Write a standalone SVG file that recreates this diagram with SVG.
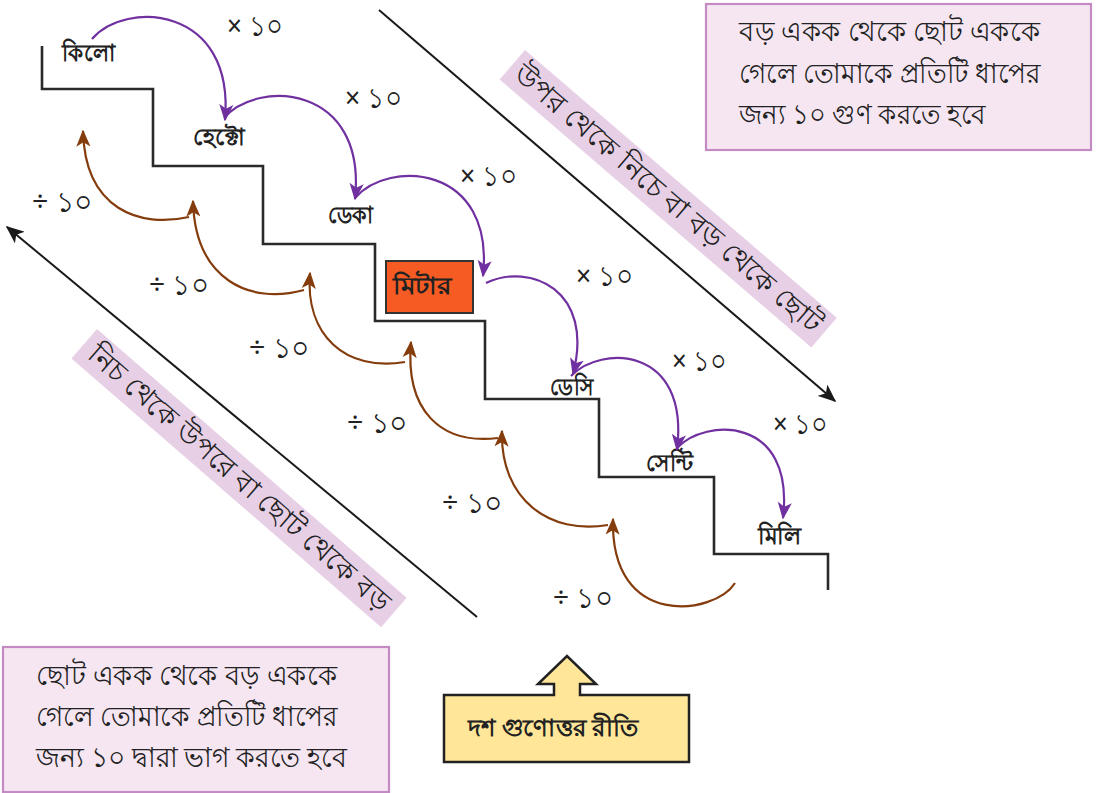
<svg xmlns="http://www.w3.org/2000/svg" width="1096" height="793" viewBox="0 0 1096 793">
<defs>
<style>
.bn{font-family:"Noto Sans","Liberation Sans",sans-serif;fill:#222}
.lbl{font-size:24px;font-weight:bold}
.op{font-size:29px}
.box{font-size:28px}
.band{font-size:28px}
.pu{fill:none;stroke:#7030A0;stroke-width:2.2}
.br{fill:none;stroke:#843C0C;stroke-width:2.2}
.stair{fill:none;stroke:#2a2a2a;stroke-width:2.6}
.diag{fill:none;stroke:#1a1a1a;stroke-width:2}
</style>
<marker id="mp" viewBox="0 0 12 10" refX="11" refY="5" markerWidth="17" markerHeight="15" markerUnits="userSpaceOnUse" orient="auto"><path d="M0,0 L12,5 L0,10 L3,5 z" fill="#7030A0"/></marker>
<marker id="mb" viewBox="0 0 12 10" refX="11" refY="5" markerWidth="17" markerHeight="15" markerUnits="userSpaceOnUse" orient="auto"><path d="M0,0 L12,5 L0,10 L3,5 z" fill="#843C0C"/></marker>
<marker id="mk" viewBox="0 0 12 10" refX="11" refY="5" markerWidth="18" markerHeight="15" markerUnits="userSpaceOnUse" orient="auto"><path d="M0,0 L12,5 L0,10 L3,5 z" fill="#1a1a1a"/></marker>
</defs>
<rect width="1096" height="793" fill="#fff"/>

<g id="bands">
<g id="band-right" transform="translate(525,50) rotate(40.66)">
<rect x="0" y="0" width="411" height="39" fill="#E7D0E6"/>
<text class="bn band" x="8" y="29" textLength="395" lengthAdjust="spacingAndGlyphs">উপর থেকে নিচে বা বড় থেকে ছোট</text>
</g>
<g id="band-left" transform="translate(97,329) rotate(40.95)">
<rect x="0" y="0" width="410" height="39" fill="#E7D0E6"/>
<text class="bn band" x="10" y="29" textLength="390" lengthAdjust="spacingAndGlyphs">নিচ থেকে উপরে বা ছোট থেকে বড়</text>
</g>
</g>

<g id="staircase">
<path class="stair" d="M42,46 V89 H153 V166 H263 V244 H375 V321 H485 V399 H599 V477 H714 V554 H828 V590"/>
</g>

<g id="node-kilo"><text class="bn lbl" x="62" y="61" textLength="53" lengthAdjust="spacingAndGlyphs">কিলো</text></g>
<g id="node-hecto"><text class="bn lbl" x="193" y="145" textLength="52" lengthAdjust="spacingAndGlyphs">হেক্টো</text></g>
<g id="node-deca"><text class="bn lbl" x="328" y="223" textLength="45" lengthAdjust="spacingAndGlyphs">ডেকা</text></g>
<g id="node-meter"><rect x="386" y="261" width="87" height="52" fill="#F55B22" stroke="#333" stroke-width="2"/><text class="bn lbl" x="393" y="294" textLength="58" lengthAdjust="spacingAndGlyphs">মিটার</text></g>
<g id="node-deci"><text class="bn lbl" x="550" y="395" textLength="43" lengthAdjust="spacingAndGlyphs">ডেসি</text></g>
<g id="node-centi"><text class="bn lbl" x="646" y="471" textLength="47" lengthAdjust="spacingAndGlyphs">সেন্টি</text></g>
<g id="node-milli"><text class="bn lbl" x="758" y="544" textLength="43" lengthAdjust="spacingAndGlyphs">মিলি</text></g>

<g id="connectors">
<path class="pu" marker-end="url(#mp)" d="M92,39 C125,0 235,5 225,120"/>
<path class="pu" marker-end="url(#mp)" d="M224,118 C257,79 367,84 355,199"/>
<path class="pu" marker-end="url(#mp)" d="M355,198 C388,159 495,164 483,276"/>
<path class="pu" marker-end="url(#mp)" d="M486,283 C530,262 595,290 573,374"/>
<path class="pu" marker-end="url(#mp)" d="M571,376 C600,345 690,345 677,450"/>
<path class="pu" marker-end="url(#mp)" d="M677,448 C705,418 795,415 783,518"/>

<path class="br" marker-end="url(#mb)" d="M189,217 C140,228 85,210 83,131"/>
<path class="br" marker-end="url(#mb)" d="M304,290 C250,305 195,280 193,201"/>
<path class="br" marker-end="url(#mb)" d="M405,362 C345,372 305,335 310,273"/>
<path class="br" marker-end="url(#mb)" d="M498,438 C440,445 405,410 411,342"/>
<path class="br" marker-end="url(#mb)" d="M608,525 C550,535 500,500 502,431"/>
<path class="br" marker-end="url(#mb)" d="M735,583 C715,615 610,630 613,519"/>

<line class="diag" marker-end="url(#mk)" x1="379" y1="10" x2="835" y2="401"/>
<line class="diag" marker-end="url(#mk)" x1="477" y1="617" x2="7" y2="227"/>
</g>

<g id="ops">
<text class="bn op" x="227" y="36" textLength="56" lengthAdjust="spacingAndGlyphs">× ১০</text>
<text class="bn op" x="345" y="108" textLength="57" lengthAdjust="spacingAndGlyphs">× ১০</text>
<text class="bn op" x="460" y="186" textLength="57" lengthAdjust="spacingAndGlyphs">× ১০</text>
<text class="bn op" x="576" y="286" textLength="57" lengthAdjust="spacingAndGlyphs">× ১০</text>
<text class="bn op" x="672" y="371" textLength="55" lengthAdjust="spacingAndGlyphs">× ১০</text>
<text class="bn op" x="773" y="434" textLength="55" lengthAdjust="spacingAndGlyphs">× ১০</text>
<text class="bn op" x="32" y="212" textLength="61" lengthAdjust="spacingAndGlyphs">÷ ১০</text>
<text class="bn op" x="149" y="295" textLength="60" lengthAdjust="spacingAndGlyphs">÷ ১০</text>
<text class="bn op" x="249" y="358" textLength="61" lengthAdjust="spacingAndGlyphs">÷ ১০</text>
<text class="bn op" x="347" y="433" textLength="61" lengthAdjust="spacingAndGlyphs">÷ ১০</text>
<text class="bn op" x="442" y="513" textLength="61" lengthAdjust="spacingAndGlyphs">÷ ১০</text>
<text class="bn op" x="553" y="608" textLength="60" lengthAdjust="spacingAndGlyphs">÷ ১০</text>
</g>

<g id="note-top">
<rect x="706" y="4" width="385" height="146" fill="#F5E6F2" stroke="#C48AC4" stroke-width="2.2"/>
<text class="bn box" x="739" y="41" textLength="301" lengthAdjust="spacingAndGlyphs">বড় একক থেকে ছোট এককে</text>
<text class="bn box" x="739" y="83" textLength="301" lengthAdjust="spacingAndGlyphs">গেলে তোমাকে প্রতিটি ধাপের</text>
<text class="bn box" x="739" y="124" textLength="247" lengthAdjust="spacingAndGlyphs">জন্য ১০ গুণ করতে হবে</text>
</g>

<g id="note-bottom">
<rect x="3" y="647" width="386" height="145" fill="#F5E6F2" stroke="#C48AC4" stroke-width="2.2"/>
<text class="bn box" x="36" y="685" textLength="301" lengthAdjust="spacingAndGlyphs">ছোট একক থেকে বড় এককে</text>
<text class="bn box" x="36" y="726" textLength="301" lengthAdjust="spacingAndGlyphs">গেলে তোমাকে প্রতিটি ধাপের</text>
<text class="bn box" x="36" y="767" textLength="311" lengthAdjust="spacingAndGlyphs">জন্য ১০ দ্বারা ভাগ করতে হবে</text>
</g>

<g id="node-method">
<path d="M444,695 H554 V684 H538 L567,656 L596,684 H580 V695 H689 V762 H444 Z" fill="#FFE699" stroke="#222" stroke-width="2.5"/>
<text class="bn lbl" x="468" y="736" textLength="170" lengthAdjust="spacingAndGlyphs">দশ গুণোত্তর রীতি</text>
</g>
</svg>
